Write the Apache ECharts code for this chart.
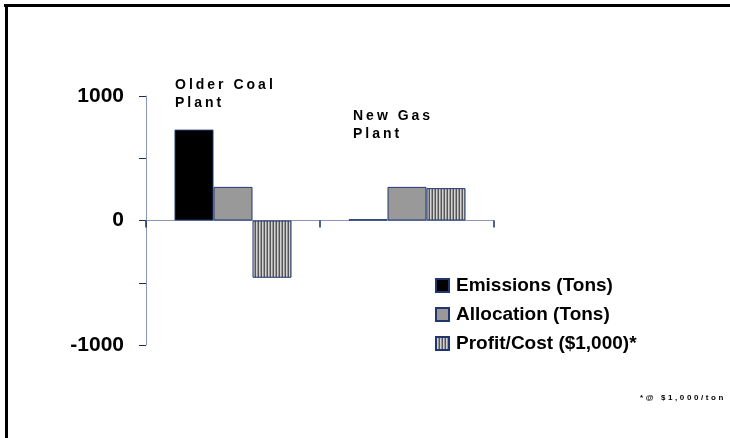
<!DOCTYPE html>
<html>
<head>
<meta charset="utf-8">
<script src="https://cdn.jsdelivr.net/npm/echarts@6/dist/echarts.min.js"></script>
<style>
  html, body { margin: 0; padding: 0; background: #fff; }
  #wrap { position: relative; width: 730px; height: 438px; }
  #chart { width: 730px; height: 438px; }
  .note {
    position: absolute;
    font-family: 'Liberation Sans', Arial, sans-serif;
    font-weight: bold;
    color: #000;
    white-space: nowrap;
  }
  .plant { font-size: 14px; line-height: 18px; letter-spacing: 3px; }
  .foot { font-size: 8px; line-height: 10px; letter-spacing: 2.6px; }
</style>
</head>
<body>
<div id="wrap">
  <div id="chart"></div>
  <div class="note plant" style="left:175px; top:75px;">Older Coal<br>Plant</div>
  <div class="note plant" style="left:353px; top:106px;">New Gas<br>Plant</div>
  <div class="note foot" style="left:640px; top:393px;">*@ $1,000/ton</div>
</div>
<script>
const categories = ['Older Coal Plant', 'New Gas Plant'];
const emissions = [730, 10];
const allocation = [270, 270];
const profitCost = [-460, 260];
const seriesNames = ['Emissions (Tons)', 'Allocation (Tons)', 'Profit/Cost ($1,000)*'];

// vertical stripe fill for the profit/cost bars
const stripe = document.createElement('canvas');
stripe.width = 3;
stripe.height = 4;
const sctx = stripe.getContext('2d');
sctx.fillStyle = '#d2d2d2';
sctx.fillRect(0, 0, 3, 4);
sctx.fillStyle = '#555555';
sctx.fillRect(0, 0, 1, 4);
sctx.fillStyle = '#9a9a9a';
sctx.fillRect(2, 0, 1, 4);

const barBorder = '#1f3670';
const axisColor = '#8a97b6';
const tickColor = '#1b2d5e';

const chart = echarts.init(document.getElementById('chart'));
chart.setOption({
    animation: false,
    backgroundColor: '#fff',
    grid: { left: 146, right: 236, top: 96, bottom: 93 },
    legend: {
        orient: 'vertical',
        left: 435,
        top: 276,
        padding: 0,
        icon: 'rect',
        itemWidth: 13,
        itemHeight: 13,
        itemGap: 10,
        selectedMode: false,
        textStyle: {
            fontFamily: "'Liberation Sans', Arial, sans-serif",
            fontSize: 19,
            fontWeight: 'bold',
            color: '#000',
            lineHeight: 19,
            padding: [0, 0, 0, 2]
        },
        data: seriesNames
    },
    xAxis: {
        type: 'category',
        data: categories,
        axisLine: { lineStyle: { color: axisColor, width: 1 } },
        axisTick: { show: true, length: 7, lineStyle: { color: tickColor, width: 1.5 } },
        axisLabel: { show: false },
        splitLine: { show: false }
    },
    yAxis: {
        type: 'value',
        min: -1000,
        max: 1000,
        interval: 500,
        axisLine: { show: true, lineStyle: { color: axisColor, width: 1 } },
        axisTick: { show: true, length: 7, lineStyle: { color: tickColor, width: 1 } },
        splitLine: { show: false },
        axisLabel: {
            margin: 22,
            fontFamily: "'Liberation Sans', Arial, sans-serif",
            fontSize: 21,
            fontWeight: 'bold',
            color: '#000',
            formatter: (v) => (v % 1000 === 0 ? String(v) : '')
        }
    },
    graphic: [
        { type: 'rect', left: 4, top: 4, shape: { width: 726, height: 3 }, style: { fill: '#000' }, silent: true },
        { type: 'rect', left: 5, top: 4, shape: { width: 3, height: 434 }, style: { fill: '#000' }, silent: true }
    ],
    series: [
        {
            name: seriesNames[0],
            type: 'bar',
            barWidth: 39,
            barGap: '0%',
            data: emissions,
            itemStyle: { color: '#000', borderColor: barBorder, borderWidth: 1 }
        },
        {
            name: seriesNames[1],
            type: 'bar',
            barWidth: 39,
            barGap: '0%',
            data: allocation,
            itemStyle: { color: '#999999', borderColor: barBorder, borderWidth: 1 }
        },
        {
            name: seriesNames[2],
            type: 'bar',
            barWidth: 39,
            barGap: '0%',
            data: profitCost,
            itemStyle: {
                color: { image: stripe, repeat: 'repeat' },
                borderColor: barBorder,
                borderWidth: 1
            }
        }
    ]
});
</script>
</body>
</html>
